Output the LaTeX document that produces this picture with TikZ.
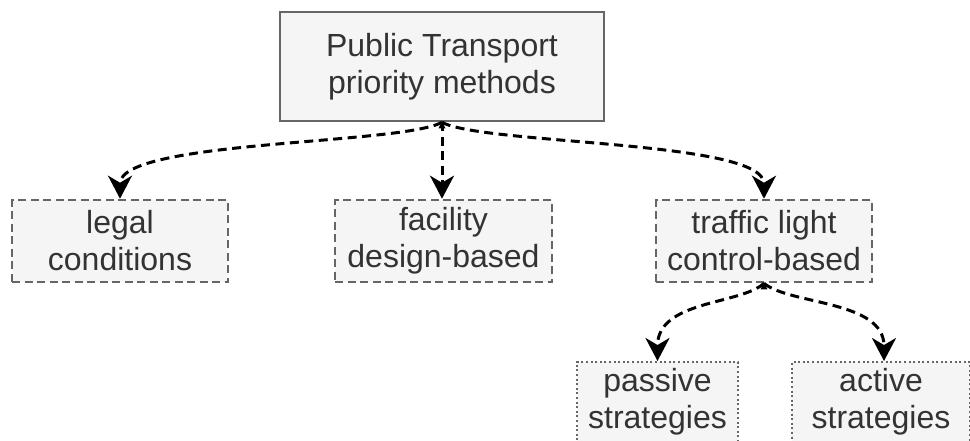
\documentclass[tikz,border=0pt]{standalone}
\usepackage{fontspec}
\setmainfont{Liberation Sans}
\usetikzlibrary{arrows.meta}
\definecolor{boxfill}{HTML}{F5F5F5}
\definecolor{boxline}{HTML}{666666}
\definecolor{txt}{HTML}{333333}
\tikzset{
  base/.style={rectangle, fill=boxfill, text=txt, align=center, inner sep=0pt,
    font=\fontsize{32}{37}\selectfont, line width=2.6pt},
  mainbox/.style={base, draw=boxline},
  dashbox/.style={base, draw=boxline, dash pattern=on 8pt off 4.5pt},
  dotbox/.style={base, draw=boxline, line width=2pt, dash pattern=on 2pt off 2.6pt},
  conn/.style={draw=black, line width=3pt, dash pattern=on 9pt off 5.5pt,
    -{Stealth[length=23pt,width=24pt,inset=7pt]}},
}
\begin{document}
\begin{tikzpicture}[x=1pt,y=-1pt]
\useasboundingbox (0,0) rectangle (970,440);
\node[mainbox, minimum width=324pt, minimum height=109pt] (top) at (442,66.5) {Public Transport\\priority methods};
\node[dashbox, minimum width=216pt, minimum height=82pt] (legal) at (120,241) {legal\\conditions};
\node[dashbox, minimum width=217pt, minimum height=82pt] (fac) at (443.5,241) {facility\\design-based};
\node[dashbox, minimum width=216pt, minimum height=82pt] (traffic) at (764,241) {traffic light\\control-based};
\node[dotbox, minimum width=161pt, minimum height=80pt] (passive) at (657.5,402) {passive\\strategies};
\node[dotbox, minimum width=178pt, minimum height=80pt] (active) at (881,402) {active\\strategies};
\coordinate (s) at (top.south);
\path[fill=black] (s) ++(0,-1) -- ++(-3.5,7) -- ++(7,0) -- cycle;
\draw[conn] (s) .. controls (400,145) and (120,140) .. (legal.north);
\draw[conn] (s) -- (fac.north -| s);
\draw[conn] (s) .. controls (484,145) and (764,140) .. (traffic.north);
\coordinate (t) at (traffic.south);
\path[fill=black] (t) ++(0,-1) -- ++(-3.5,7) -- ++(7,0) -- cycle;
\draw[conn] (t) .. controls (740,305) and (657.5,300) .. (passive.north);
\draw[conn] (t) .. controls (790,305) and (884,300) .. (active.north -| 884,0);
\end{tikzpicture}
\end{document}
